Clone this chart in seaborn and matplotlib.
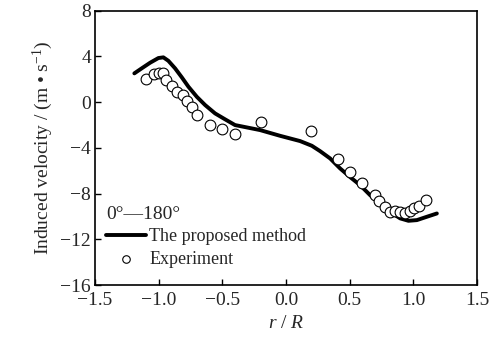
import matplotlib
matplotlib.use("Agg")
import matplotlib.pyplot as plt
import seaborn as sns
import pandas as pd

# Computed induced velocity along the rotor radius (0°—180° section)
model_r = [-1.192, -1.134, -1.068, -1.003, -0.964, -0.925, -0.872, -0.819, -0.767, -0.701,
           -0.636, -0.558, -0.479, -0.401, -0.204, -0.047, 0.110, 0.202, 0.267, 0.346,
           0.424, 0.503, 0.581, 0.660, 0.738, 0.817, 0.896, 0.961, 1.027, 1.105, 1.184]
model_v = [2.51, 2.95, 3.44, 3.85, 3.91, 3.61, 2.95, 2.16, 1.34, 0.46,
           -0.26, -0.99, -1.51, -2.01, -2.45, -2.95, -3.41, -3.82, -4.29, -4.93,
           -5.80, -6.56, -7.26, -8.14, -8.86, -9.60, -10.17, -10.38, -10.32, -10.03, -9.74]

# Measured induced velocity
exp_r = [-1.10, -1.04, -1.00, -0.97, -0.94, -0.90, -0.86, -0.81, -0.775, -0.74,
         -0.70, -0.60, -0.50, -0.40, -0.20, 0.196, 0.406, 0.50, 0.60, 0.70,
         0.733, 0.78, 0.817, 0.856, 0.895, 0.935, 0.974, 1.005, 1.04, 1.10]
exp_v = [1.98, 2.42, 2.5, 2.5, 1.92, 1.4, 0.87, 0.6, 0.11, -0.41,
         -1.17, -2.0, -2.36, -2.8, -1.78, -2.5, -5.0, -6.1, -7.1, -8.14,
         -8.63, -9.2, -9.6, -9.5, -9.6, -9.68, -9.5, -9.3, -9.1, -8.57]

x_ticks = [-1.5, -1.0, -0.5, 0.0, 0.5, 1.0, 1.5]
y_ticks = [8, 4, 0, -4, -8, -12, -16]

sns.set_style("ticks")
plt.rcParams["font.family"] = ["Liberation Serif", "DejaVu Serif"]
plt.rcParams["mathtext.fontset"] = "custom"
plt.rcParams["mathtext.rm"] = "Liberation Serif"
plt.rcParams["mathtext.it"] = "Liberation Serif:italic"
plt.rcParams["xtick.direction"] = "in"
plt.rcParams["ytick.direction"] = "in"

model = pd.DataFrame({"r": model_r, "v": model_v})
meas = pd.DataFrame({"r": exp_r, "v": exp_v})

fig = plt.figure(figsize=(4.98, 3.41), dpi=100)
ax = fig.add_axes([0.191, 0.164, 0.767, 0.805])

sns.lineplot(data=model, x="r", y="v", ax=ax, color="black", linewidth=2.8,
             label="The proposed method", sort=False)
sns.scatterplot(data=meas, x="r", y="v", ax=ax, marker="o", s=60,
                facecolor="white", edgecolor="black", linewidth=0.8,
                label="Experiment", zorder=3)

ax.set_xlim(-1.5, 1.5)
ax.set_ylim(-16, 8)
ax.set_xticks(x_ticks)
ax.set_yticks(y_ticks)
ax.set_xticklabels([f"{t:.1f}".replace("-", "\u2212") for t in x_ticks])
ax.set_yticklabels([str(t).replace("-", "\u2212") for t in y_ticks])
ax.tick_params(axis="both", labelsize=14, length=4, width=1, color="black")
ax.tick_params(axis="x", pad=5)
ax.tick_params(axis="y", pad=3)
for s in ax.spines.values():
    s.set_visible(True)
    s.set_linewidth(1.2)
    s.set_color("black")

ax.set_xlabel("$r$ / $R$", fontsize=14, labelpad=4)
ax.set_ylabel("Induced velocity / (m \u2022 s$^{-1}$)", fontsize=14, labelpad=4)

leg = ax.legend(title="0°\u2014180°", loc="upper left", bbox_to_anchor=(0.01, 0.315),
                frameon=False, fontsize=13, title_fontsize=14, handlelength=2.2,
                handletextpad=0.2, borderaxespad=0.0, labelspacing=0.3,
                markerscale=0.7)
leg._legend_box.align = "left"

fig.savefig("out.png", dpi=100)
